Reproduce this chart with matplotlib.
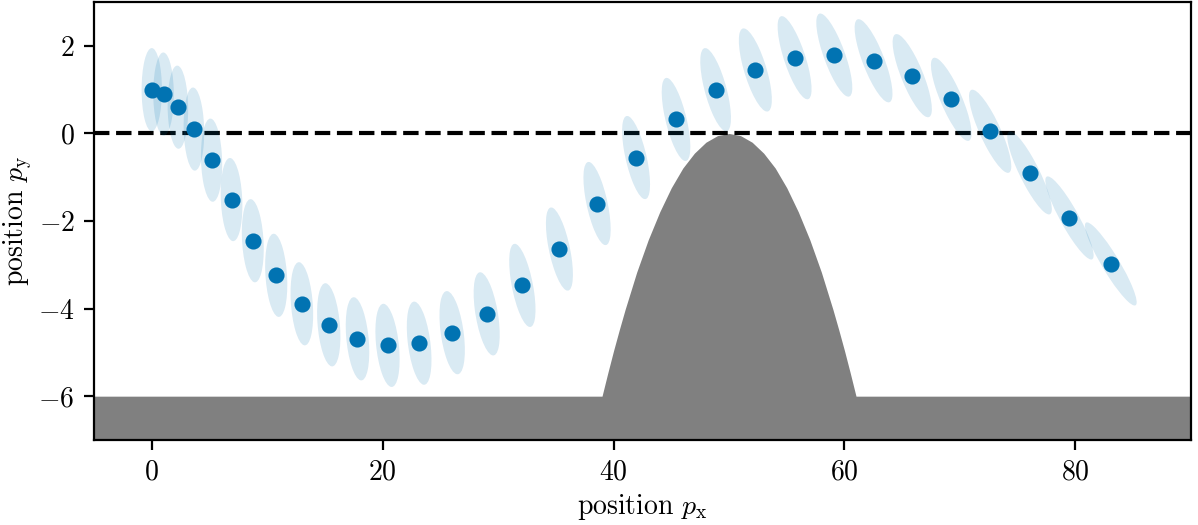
import numpy as np
import matplotlib
matplotlib.use("Agg")
import matplotlib.pyplot as plt
from matplotlib.patches import Ellipse

plt.rcParams.update({
    "font.family": "serif",
    "font.serif": ["cmr10"],
    "mathtext.fontset": "cm",
    "axes.formatter.use_mathtext": True,
    "axes.unicode_minus": True,
    "font.size": 10,
})

# ---- data ----
px = [0.0, 1.02, 2.26, 3.65, 5.18, 6.91, 8.75, 10.78, 13.0, 15.33, 17.82, 20.42,
      23.16, 26.02, 29.01, 32.1, 35.31, 38.57, 41.95, 45.41, 48.84, 52.28, 55.68,
      59.12, 62.52, 65.87, 69.25, 72.62, 76.03, 79.49, 83.07]
py = [1.0, 0.90, 0.60, 0.10, -0.61, -1.51, -2.45, -3.24, -3.89, -4.37, -4.69, -4.84,
      -4.79, -4.55, -4.12, -3.47, -2.64, -1.60, -0.55, 0.32, 1.0, 1.45, 1.73,
      1.79, 1.66, 1.32, 0.78, 0.05, -0.90, -1.93, -2.98]
sig_x = [0.88, 0.89, 0.89, 0.89, 0.92, 0.94, 0.95, 0.96, 0.98, 1.01, 1.02, 1.05,
         1.07, 1.10, 1.13, 1.14, 1.17, 1.18, 1.21, 1.24, 1.33, 1.43, 1.47,
         1.56, 1.64, 1.70, 1.76, 1.83, 1.93, 2.09, 2.24]
sig_y = [0.95] * 31
rho = [0.0, -0.02, -0.06, -0.09, -0.11, -0.15, -0.20, -0.23, -0.26, -0.29, -0.32, -0.34,
       -0.40, -0.42, -0.50, -0.58, -0.61, -0.62, -0.64, -0.66, -0.68, -0.71, -0.75,
       -0.78, -0.79, -0.80, -0.82, -0.84, -0.87, -0.90, -0.92]

# terrain profile (hill)
terrain_x = [-5, 39, 39.5, 40, 40.5, 41, 42, 43, 44, 45, 46, 47, 48, 49, 50,
             51, 52, 53, 54, 55, 56, 57, 58, 59, 59.5, 60, 60.5, 61, 90]
terrain_y = [-6, -6, -5.47, -4.96, -4.48, -4.02, -3.17, -2.43, -1.79, -1.24, -0.79, -0.45, -0.20, -0.05, 0.0,
             -0.05, -0.20, -0.45, -0.79, -1.24, -1.79, -2.43, -3.17, -4.02, -4.48, -4.96, -5.47, -6, -6]
ground_bottom = -7

blue = "#0173B2"

fig = plt.figure(figsize=(5.99, 2.625), dpi=200)
ax = fig.add_axes([0.0785, 0.162, 0.9155, 0.834])

ax.fill_between(terrain_x, ground_bottom, terrain_y, color="#808080", lw=0, zorder=1)
ax.axhline(0, color="black", ls="--", lw=1.5, zorder=2)

for x, y, sx, sy, r in zip(px, py, sig_x, sig_y, rho):
    cov = np.array([[sx * sx, r * sx * sy], [r * sx * sy, sy * sy]])
    vals, vecs = np.linalg.eigh(cov)
    ang = np.degrees(np.arctan2(vecs[1, 1], vecs[0, 1]))
    e = Ellipse((x, y), 2 * np.sqrt(vals[1]), 2 * np.sqrt(vals[0]), angle=ang,
                facecolor=blue, alpha=0.15, edgecolor="none", zorder=3)
    ax.add_patch(e)

ax.plot(px, py, "o", color=blue, ms=4.8, zorder=4)

ax.set_xlim(-5, 90)
ax.set_ylim(-7, 3)
ax.set_xticks([0, 20, 40, 60, 80])
ax.set_yticks([-6, -4, -2, 0, 2])
ax.set_xlabel(r"position $p_{\mathrm{x}}$", labelpad=2.2)
ax.set_ylabel(r"position $p_{\mathrm{y}}$", labelpad=1.5)

fig.savefig("out.png", dpi=200)
